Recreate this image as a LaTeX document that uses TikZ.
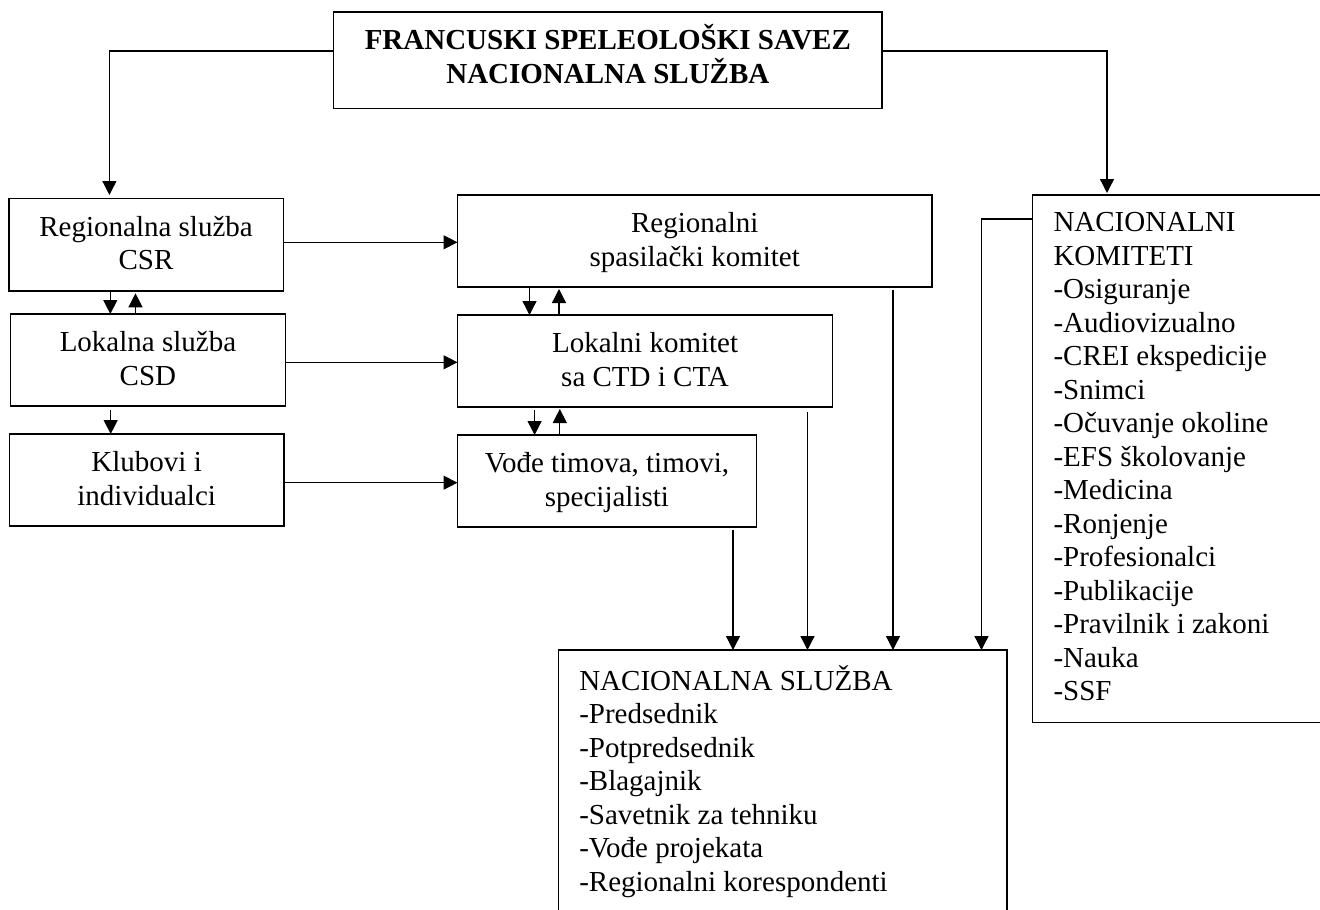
\documentclass[tikz,border=0pt]{standalone}
\usepackage{fontspec}
\setmainfont{Liberation Serif}
\usetikzlibrary{arrows.meta,calc}
\begin{document}
\begin{tikzpicture}[x=1pt,y=-1pt,
  txt/.style={font=\fontsize{29}{33.5}\selectfont},
  cbox/.style={draw, line width=1.6pt, inner sep=0pt, outer sep=0pt, txt,
    text height=25.25pt, text depth=41.75pt},
  lbox/.style={draw, line width=1.6pt, inner xsep=21pt, inner ysep=0pt,
    outer sep=0pt, txt, anchor=north west},
  conn/.style={line width=1.3pt, -{Triangle[length=14pt,width=14pt]}},
]
\useasboundingbox (0,0) rectangle (1320,910);
\fill[white] (0,0) rectangle (1320,910);
\clip (0,0) rectangle (1320,910);

% boxes
\node[cbox, minimum width=548.7pt, minimum height=96.3pt,
  text height=23.25pt, text depth=43.75pt,
  font=\fontsize{29}{33.5}\selectfont\bfseries] (top) at (607.85,60.15)
  {\begin{tabular}[t]{@{}c@{}}FRANCUSKI SPELEOLOŠKI SAVEZ\\ \smash{NACIONALNA SLUŽBA}\end{tabular}};

\node[cbox, minimum width=274.5pt, minimum height=92.4pt] (reg) at (146.05,244.5)
  {\begin{tabular}[t]{@{}c@{}}Regionalna služba\\ CSR\end{tabular}};
\node[cbox, minimum width=274.9pt, minimum height=92pt] (lok) at (147.95,360)
  {\begin{tabular}[t]{@{}c@{}}Lokalna služba\\ CSD\end{tabular}};
\node[cbox, minimum width=274.7pt, minimum height=92pt] (klub) at (146.65,480)
  {\begin{tabular}[t]{@{}c@{}}Klubovi i\\ individualci\end{tabular}};

\node[cbox, minimum width=474.5pt, minimum height=91.7pt] (rsk) at (694.75,240.85)
  {\begin{tabular}[t]{@{}c@{}}Regionalni\\ spasilački komitet\end{tabular}};
\node[cbox, minimum width=375.1pt, minimum height=92pt] (lk) at (645.05,361)
  {\begin{tabular}[t]{@{}c@{}}Lokalni komitet\\ sa CTD i CTA\end{tabular}};
\node[cbox, minimum width=298.9pt, minimum height=92pt] (vode) at (606.95,481)
  {\begin{tabular}[t]{@{}c@{}}Vođe timova, timovi,\\ specijalisti\end{tabular}};

\node[lbox, text height=40pt, text depth=300pt] (ns) at (558.3,650)
  {\begin{tabular}[t]{@{}p{406.4pt}@{}}NACIONALNA SLUŽBA\\ -Predsednik\\ -Potpredsednik\\ -Blagajnik\\ -Savetnik za tehniku\\ -Vođe projekata\\ -Regionalni korespondenti\end{tabular}};

\node[lbox, text height=36.7pt, text depth=490.6pt] (nk) at (1032.5,195)
  {\begin{tabular}[t]{@{}p{265.5pt}@{}}NACIONALNI\\ KOMITETI\\ -Osiguranje\\ -Audiovizualno\\ -CREI ekspedicije\\ -Snimci\\ -Očuvanje okoline\\ -EFS školovanje\\ -Medicina\\ -Ronjenje\\ -Profesionalci\\ -Publikacije\\ -Pravilnik i zakoni\\ -Nauka\\ -SSF\end{tabular}};

% top connectors
\draw[conn] ([yshift=9.15pt]top.west) -| ([xshift=-36.65pt,yshift=3.3pt]reg.north);
\draw[conn] ([yshift=9.15pt]top.east) -| ([xshift=74.5pt,yshift=2pt]nk.north west);

% horizontal connectors
\coordinate (h1) at ([yshift=2.2pt]reg.east);
\coordinate (h2) at ([yshift=-2.3pt]lok.east);
\coordinate (h3) at ([yshift=-2.7pt]klub.east);
\draw[conn] (h1) -- (h1 -| rsk.west);
\draw[conn] (h2) -- (h2 -| lk.west);
\draw[conn] (h3) -- (h3 -| vode.west);

% small vertical arrows, left column
\coordinate (d1) at ([xshift=-35.75pt]reg.south);
\coordinate (u1) at ([xshift=-10.55pt,yshift=-2.6pt]reg.south);
\coordinate (d2) at ([xshift=-37.25pt,yshift=-4pt]lok.south);
\draw[conn] (d1) -- (d1 |- lok.north);
\draw[conn] (u1 |- lok.north) -- (u1);
\draw[conn] (d2) -- (d2 |- klub.north);

% small vertical arrows, middle column
\coordinate (d3) at ([xshift=-165.25pt]rsk.south);
\coordinate (u3) at ([xshift=-135.75pt,yshift=-2.3pt]rsk.south);
\coordinate (d4) at ([xshift=-110.45pt,yshift=-3pt]lk.south);
\coordinate (u4) at ([xshift=-85.25pt,yshift=-2pt]lk.south);
\draw[conn] (d3) -- (d3 |- lk.north);
\draw[conn] (u3 |- lk.north) -- (u3);
\draw[conn] (d4) -- (d4 |- vode.north);
\draw[conn] (u4 |- vode.north) -- (u4);

% long arrows to national service
\coordinate (v1) at ([xshift=126.05pt,yshift=-3pt]vode.south);
\coordinate (v2) at ([xshift=162.45pt,yshift=-5pt]lk.south);
\coordinate (v3) at ([xshift=198.25pt,yshift=-3.3pt]rsk.south);
\draw[conn] (v1) -- (v1 |- ns.north);
\draw[conn] (v2) -- (v2 |- ns.north);
\draw[conn] (v3) -- (v3 |- ns.north);
\draw[conn] ([yshift=-24pt]nk.north west) -| ([xshift=-25.2pt]ns.north east);
\end{tikzpicture}
\end{document}
